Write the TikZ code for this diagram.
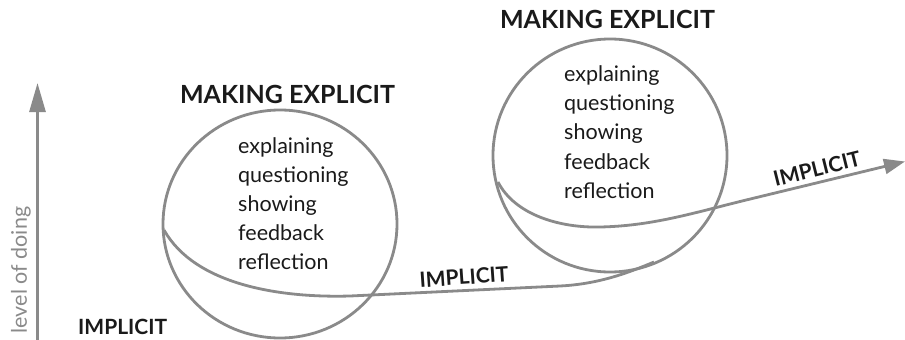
\documentclass[tikz,border=0pt]{standalone}
\usepackage{fontspec}
\setmainfont{Lato}
\usetikzlibrary{arrows.meta}
\definecolor{loopgray}{RGB}{138,138,138}
\definecolor{inkblack}{RGB}{26,26,26}
\tikzset{
  loopline/.style={draw=loopgray,line width=2.8pt},
  title/.style={font=\fontsize{25}{29}\selectfont\bfseries,text=inkblack,anchor=base,inner sep=0pt},
  phase/.style={font=\fontsize{21}{25}\selectfont\bfseries,text=inkblack,inner sep=0pt},
  item/.style={font=\fontsize{21.5}{25}\selectfont,text=inkblack,anchor=base west,inner sep=0pt}
}
\begin{document}
\begin{tikzpicture}[x=1pt,y=-1pt]
\useasboundingbox (0,0) rectangle (905,340);

% Axis
\draw[loopgray,line width=2.8pt,-{Triangle[length=29pt,width=16pt]}] (37.5,345) -- (37.5,83);
\node[rotate=90,font=\fontsize{21.5}{25}\selectfont,text=loopgray,inner sep=0pt] (axislabel) at (21,270) {level of doing};
\node[phase,anchor=base west] (implicit0) at (78,334.5) {IMPLICIT};

% First loop
\begin{scope}[shift={(280,224)}]
\draw[loopline] (0,0) ellipse [x radius=117, y radius=114];
\node[title] (explicit1) at (7.5,-121) {MAKING EXPLICIT};
\foreach \w [count=\i] in {explaining,questioning,showing,feedback,reflection} {
    \node[item] (first-\i) at (-42,-71+29.2*\i-29.2) {\w};
}
\end{scope}

% Second loop
\begin{scope}[shift={(610,155.5)}]
\draw[loopline] (0,0) ellipse [x radius=117, y radius=116.5];
\node[title] (explicit2) at (-2.5,-127.5) {MAKING EXPLICIT};
\foreach \w [count=\i] in {explaining,questioning,showing,feedback,reflection} {
    \node[item] (second-\i) at (-46,-74.5+29.4*\i-29.4) {\w};
}
\end{scope}

% Path between the loops
\coordinate (leave1) at (164,230);
\coordinate (join2) at (654,262);
\coordinate (leave2) at (498,182);
\coordinate (tip) at (905,161.5);
\draw[loopline] (leave1) .. controls (195,285) and (280,298) .. (350,296)
    -- (560,286) .. controls (600,284) and (630,272) .. (join2);
\draw[loopline,-{Triangle[length=21pt,width=15pt]}] (leave2) .. controls (515,215) and (560,228) .. (600,227)
    .. controls (650,226) and (690,214) .. (740,201.5) -- (tip);

\node[phase,rotate=4] (implicit1) at (464,277) {IMPLICIT};
\node[phase,rotate=14] (implicit2) at (817,168.5) {IMPLICIT};
\end{tikzpicture}
\end{document}
